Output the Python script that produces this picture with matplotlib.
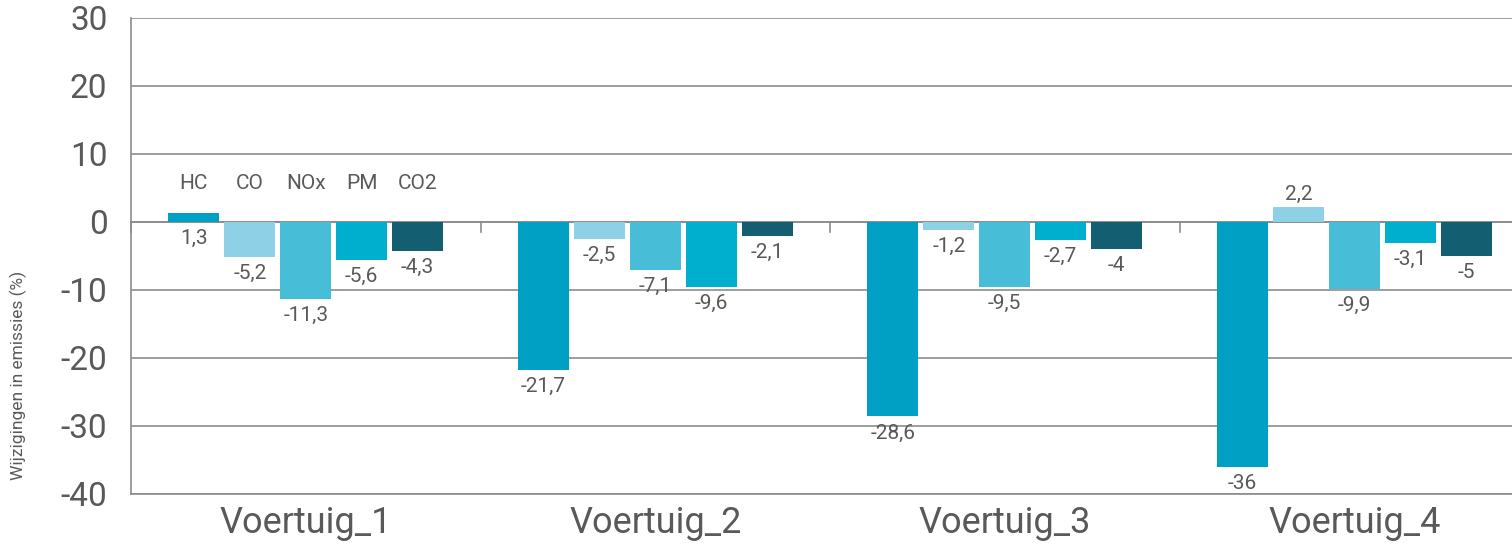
import numpy as np
import matplotlib
matplotlib.use('Agg')
import matplotlib.pyplot as plt

plt.rcParams['font.family'] = ['Roboto', 'DejaVu Sans']
plt.rcParams['axes.unicode_minus'] = False

# 数据
voertuigen = ['Voertuig_1', 'Voertuig_2', 'Voertuig_3', 'Voertuig_4']
stoffen = ['HC', 'CO', 'NOx', 'PM', 'CO2']
hc = [1.3, -21.7, -28.6, -36]
co = [-5.2, -2.5, -1.2, 2.2]
nox = [-11.3, -7.1, -9.5, -9.9]
pm = [-5.6, -9.6, -2.7, -3.1]
co2 = [-4.3, -2.1, -4, -5]
reeksen = [hc, co, nox, pm, co2]
kleuren = ['#009fc4', '#8ed0e6', '#48bdd8', '#00aecd', '#135e70']

tekst_kleur = '#595959'
grid_kleur = '#8c8c8c'
label_grootte = 15

fig = plt.figure(figsize=(15.12, 5.45), dpi=100)
ax = fig.add_axes([131 / 1512, 1 - 494 / 545, 1398 / 1512, 476 / 545])

x = np.arange(len(voertuigen))
stap = 0.16
breedte = 0.146

for j, (naam, waarden, kleur) in enumerate(zip(stoffen, reeksen, kleuren)):
    pos = x + (j - 2) * stap
    ax.bar(pos, waarden, width=breedte, color=kleur, zorder=3)
    for i, (p, v) in enumerate(zip(pos, waarden)):
        label = f"{v:g}".replace('.', ',')
        if v < 0:
            ax.annotate(label, (p, v), xytext=(0, -5), textcoords='offset points',
                        ha='center', va='top', fontsize=label_grootte, color=tekst_kleur)
        elif i == 0 and j == 0:
            # eerste balk: label onder de nullijn, stofnaam erboven
            ax.annotate(label, (p, 0), xytext=(0, -5), textcoords='offset points',
                        ha='center', va='top', fontsize=label_grootte, color=tekst_kleur)
        else:
            ax.annotate(label, (p, v), xytext=(0, 2), textcoords='offset points',
                        ha='center', va='bottom', fontsize=label_grootte, color=tekst_kleur)
    # stofnamen boven de eerste groep
    ax.text(pos[0], 5.6, naam, ha='center', va='center', fontsize=label_grootte,
            color=tekst_kleur)

# rasterlijnen
ax.set_ylim(-40, 30)
ax.set_yticks(np.arange(-40, 31, 10))
ax.yaxis.grid(True, color=grid_kleur, linewidth=1.2, zorder=0)
ax.set_axisbelow(True)
ax.axhline(0, color=grid_kleur, linewidth=1.2, zorder=2)

# kleine streepjes op de nullijn tussen de groepen
for grens in np.arange(len(voertuigen) + 1) - 0.5:
    ax.plot([grens, grens], [0, -1.5], color=grid_kleur, linewidth=1.2, zorder=2,
            clip_on=False)

ax.set_xlim(-0.5, len(voertuigen) - 0.5)
ax.set_xticks(x)
ax.set_xticklabels(voertuigen)

for kant in ['top', 'right']:
    ax.spines[kant].set_visible(False)
for kant in ['left', 'bottom']:
    ax.spines[kant].set_color(grid_kleur)
    ax.spines[kant].set_linewidth(1.2)

ax.tick_params(axis='y', length=0, pad=17, labelsize=24, labelcolor=tekst_kleur)
ax.tick_params(axis='x', length=0, pad=8, labelsize=26, labelcolor=tekst_kleur)

fig.text(18 / 1512, 1 - 375 / 545, 'Wijzigingen in emissies (%)', rotation=90,
         ha='center', va='center', fontsize=12.5, color=tekst_kleur)

fig.savefig('out.png', dpi=100)
